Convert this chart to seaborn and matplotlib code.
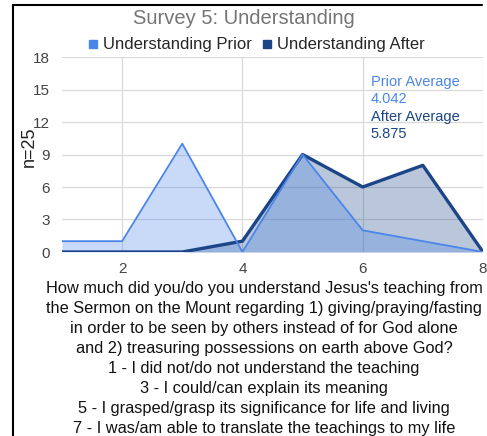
import matplotlib
matplotlib.use('Agg')
import matplotlib.pyplot as plt
import seaborn as sns
import pandas as pd
from matplotlib.lines import Line2D

# Survey 5 responses (count of people per rating)
ratings = [1, 2, 3, 4, 5, 6, 7, 8]
prior_counts = [1, 1, 10, 0, 9, 2, 1, 0]
after_counts = [0, 0, 0, 1, 9, 6, 8, 0]
prior_avg = '4.042'
after_avg = '5.875'
y_ticks = [0, 3, 6, 9, 12, 15, 18]
x_ticks = [2, 4, 6, 8]

question_lines = [
    "How much did you/do you understand Jesus's teaching from",
    "the Sermon on the Mount regarding 1) giving/praying/fasting",
    "in order to be seen by others instead of for God alone",
    "and 2) treasuring possessions on earth above God?",
    "1 - I did not/do not understand the teaching",
    "3 - I could/can explain its meaning",
    "5 - I grasped/grasp its significance for life and living",
    "7 - I was/am able to translate the teachings to my life",
]

c_prior = '#4a86e8'
c_after = '#1c4587'

df = pd.DataFrame({'Rating': ratings, 'Prior': prior_counts, 'After': after_counts})

sns.set_style('white')
plt.rcParams['font.family'] = ['Liberation Sans', 'DejaVu Sans']

fig = plt.figure(figsize=(4.87, 4.36), dpi=100)
ax = fig.add_axes([62 / 487, 1 - 252 / 436, 421 / 487, 195 / 436])

# filled areas
ax.fill_between(df['Rating'], df['After'], color=c_after, alpha=0.3, lw=0, zorder=2)
ax.fill_between(df['Rating'], df['Prior'], color=c_prior, alpha=0.3, lw=0, zorder=2)

sns.lineplot(data=df, x='Rating', y='After', color=c_after, lw=2.4, ax=ax, zorder=3)
sns.lineplot(data=df, x='Rating', y='Prior', color=c_prior, lw=1.3, ax=ax, zorder=4)

ax.set_xlim(1, 8)
ax.set_ylim(0, 18)
ax.set_xticks(x_ticks)
ax.set_yticks(y_ticks)
ax.grid(True, color='#d9d9d9', lw=0.9, zorder=0)
ax.set_axisbelow(True)
for s in ax.spines.values():
    s.set_visible(False)
ax.tick_params(axis='both', length=0, labelsize=11, labelcolor='#444444')
ax.tick_params(axis='y', pad=9)
ax.tick_params(axis='x', pad=7)

ax.set_ylabel('n=25', fontsize=13, color='#222222')
ax.yaxis.set_label_coords(-24 / 421, 0.54)
ax.set_xlabel('\n'.join(question_lines), fontsize=11.8, color='#111111',
              linespacing=1.42)
ax.xaxis.set_label_coords(0.48, -29 / 195)
ax.xaxis.label.set_va('top')

# averages note
ax.text(6.13, 16.35, 'Prior Average\n' + prior_avg, color=c_prior, fontsize=10.5,
        va='top', ha='left', linespacing=1.25)
ax.text(6.13, 13.1, 'After Average\n' + after_avg, color=c_after, fontsize=10.5,
        va='top', ha='left', linespacing=1.25)

fig.text(0.5, 0.958, 'Survey 5: Understanding', ha='center', va='center',
         fontsize=14.5, color='#757575')

handles = [Line2D([], [], marker='s', ls='', color=c_prior, markersize=6),
           Line2D([], [], marker='s', ls='', color=c_after, markersize=6)]
fig.legend(handles, ['Understanding Prior', 'Understanding After'],
           loc='center', bbox_to_anchor=(255 / 487, 1 - 45 / 436), ncol=2,
           frameon=False, fontsize=12, handletextpad=0.1, columnspacing=0.4,
           handlelength=1.0)

# outer frame (left and top edges visible)
fig.add_artist(Line2D([13 / 487, 13 / 487], [0, 1 - 5 / 436], color='black',
                      lw=1.5, transform=fig.transFigure))
fig.add_artist(Line2D([13 / 487, 482 / 487], [1 - 5 / 436, 1 - 5 / 436],
                      color='black', lw=1.5, transform=fig.transFigure))

fig.savefig('out.png', dpi=100)
